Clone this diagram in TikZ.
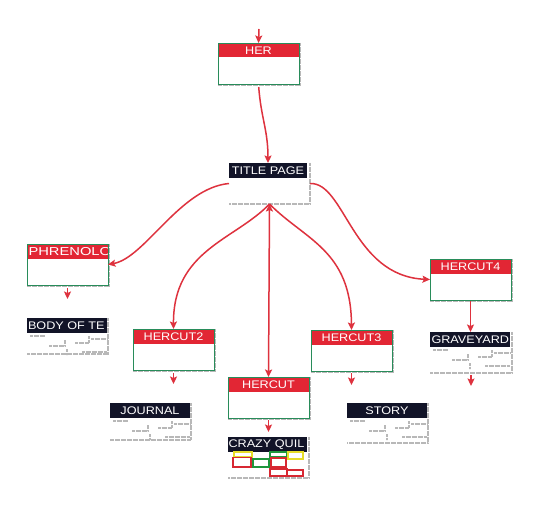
\documentclass[tikz,border=0pt]{standalone}
\usepackage{fontspec}
\newfontfamily\lbl[FakeStretch=1.15]{Liberation Sans}
\newfontfamily\lblw[FakeStretch=1.28]{Liberation Sans}
\usetikzlibrary{arrows.meta,calc}
\definecolor{hred}{RGB}{226,38,52}
\definecolor{lred}{RGB}{222,50,62}
\definecolor{bgreen}{RGB}{40,140,90}
\definecolor{navy}{RGB}{18,20,40}
\definecolor{qyellow}{RGB}{230,220,40}
\definecolor{qgreen}{RGB}{30,150,60}
\definecolor{qred}{RGB}{215,40,50}
\tikzset{
 every node/.style={inner sep=0pt, outer sep=0pt},
 lfont/.style={font=\lbl\fontsize{11}{12}\selectfont, text=white},
 wfont/.style={font=\lblw\fontsize{11.5}{12}\selectfont, text=white},
 cbox/.style={draw=bgreen, line width=0.9pt, fill=white, minimum width=81pt, minimum height=41pt, anchor=north west},
 chead/.style={fill=hred, lfont, minimum width=80pt, minimum height=14pt, anchor=north},
 tlabel/.style={fill=navy, lfont, minimum width=80pt, minimum height=15pt, anchor=north west},
 dots/.style={draw=black!28, line width=1.3pt, dash pattern=on 0.6pt off 0.6pt},
 conn/.style={draw=lred, line width=1.5pt, -{Stealth[length=7.5pt,width=7pt,inset=1.5pt]}},
 quilt/.style={line width=1.1pt},
}
\newcommand\classbox[4]{%
 \node[cbox] (#1) at (#2,#3) {};
 \node[chead] (#1h) at ([yshift=-0.5pt]#1.north) {#4};
 \draw[bgreen, line width=0.9pt] (#1.north west) rectangle (#1.south east);
 \draw[dots] ([xshift=1.6pt]#1.north east) -- ([shift={(1.6pt,-1.6pt)}]#1.south east) -- ([yshift=-1.6pt]#1.south west);
}
\newcommand\docframe[5]{%
 \node[minimum width=#4pt, minimum height=#5pt, anchor=north west] (#1f) at (#2,#3) {};
 \draw[dots] (#1f.north east) -- (#1f.south east) -- (#1f.south west);
}
\newcommand\stubs[1]{%
 \draw[dots] ($(#1.south west)+(3,3)$) -- ++(15,0);
 \draw[dots] ($(#1.south west)+(22,13)$) -- ++(16,0) -- ++(0,-6);
 \draw[dots] ($(#1.south west)+(48,10)$) -- ++(14,0) -- ++(0,-7);
 \draw[dots] ($(#1.south west)+(64,6)$) -- ++(16,0);
 \draw[dots] ($(#1.south west)+(55,19)$) -- ++(25,0);
 \draw[dots] ($(#1.south west)+(40,16)$) -- ++(0,6);
}
\begin{document}
\begin{tikzpicture}[x=1pt,y=-1pt]
\useasboundingbox[fill=white] (0,0) rectangle (534,529);

% class boxes
\classbox{her}{218}{43}{HER}
\classbox{phren}{27}{244}{}
\begin{scope}
 \clip (phrenh.south west) rectangle (phrenh.north east);
 \node[wfont, anchor=west] (phrent) at ([xshift=1pt]phrenh.west) {PHRENOLOG};
\end{scope}
\classbox{hc2}{133}{329}{HERCUT2}
\classbox{hercut}{228}{377}{HERCUT}
\classbox{hc3}{311}{330}{HERCUT3}
\classbox{hc4}{430}{259}{HERCUT4}

% document boxes
\docframe{title}{229}{163}{81}{41}
\node[tlabel, minimum width=78pt] (title) at (229,163) {TITLE PAGE};

\docframe{body}{27}{318}{81}{36}
\node[tlabel] (body) at (27,318) {};
\begin{scope}
 \clip (body.south west) rectangle (body.north east);
 \node[lfont, anchor=west] (bodyt) at ([xshift=1pt]body.west) {BODY OF TE};
\end{scope}
\stubs{body}

\docframe{journal}{110}{403}{81}{37}
\node[tlabel] (journal) at (110,403) {JOURNAL};
\stubs{journal}

\docframe{crazy}{228}{437}{81}{41}
\node[tlabel, minimum width=79pt] (crazy) at (228,437) {};
\begin{scope}
 \clip (crazy.south west) rectangle (crazy.north east);
 \node[lfont, anchor=west] (crazyt) at ([xshift=0.5pt]crazy.west) {CRAZY QUIL};
\end{scope}
\draw[quilt, qyellow] (234,452) rectangle (252,457);
\draw[quilt, qred] (233,457.5) rectangle (251,467);
\draw[quilt, qgreen] (253,459) rectangle (269,467);
\draw[quilt, qgreen] (270,452) rectangle (287,457);
\draw[quilt, qred] (271,458) rectangle (286,467);
\draw[quilt, qyellow] (288,452) rectangle (303,459);
\draw[quilt, qred] (270,469) rectangle (287,476);
\draw[quilt, qred] (287,470) rectangle (303,476);

\docframe{story}{347}{403}{81}{40}
\node[tlabel] (story) at (347,403) {STORY};
\stubs{story}

\docframe{grave}{430}{332}{82}{41}
\node[tlabel] (grave) at (430,332) {};
\begin{scope}
 \clip (grave.south west) rectangle (grave.north east);
 \node[lfont, anchor=west] (gravet) at ([xshift=1.5pt]grave.west) {GRAVEYARD};
\end{scope}
\stubs{grave}

% connectors
\coordinate (topin) at (259,29);
\draw[conn] (topin) -- (her.north);
\draw[conn, shorten <=3pt] (her.south) .. controls (261,118) and (268,130) .. (title.north);
\draw[conn] (titlef.west) .. controls (180,188) and (145,258) .. (phren.east);
\draw[conn] (titlef.east) .. controls (345,182) and (352,276) .. (hc4.west);
\draw[conn, {Stealth[length=7.5pt,width=7pt,inset=1.5pt]}-{Stealth[length=7.5pt,width=7pt,inset=1.5pt]}] (titlef.south) -- (hercut.north);
\draw[conn] (titlef.south) .. controls (235,240) and (173,250) .. (hc2.north);
\draw[conn] (titlef.south) .. controls (305,240) and (351,250) .. (hc3.north);

\draw[conn, shorten <=3pt, shorten >=19pt] (phren.south) -- (phren.south |- body.north);
\draw[conn, shorten <=3pt, shorten >=19pt] (hc2.south) -- (hc2.south |- journal.north);
\draw[conn, shorten <=2pt, shorten >=5pt] (hercut.south) -- (hercut.south |- crazy.north);
\draw[conn, shorten <=2pt, shorten >=18pt] (hc3.south) -- (hc3.south |- story.north);
\draw[conn, shorten <=1pt] (hc4.south) -- (hc4.south |- grave.north);
\coordinate (gout) at (471,386);
\draw[conn, shorten <=2pt] (gravef.south) -- (gout);
\end{tikzpicture}
\end{document}
